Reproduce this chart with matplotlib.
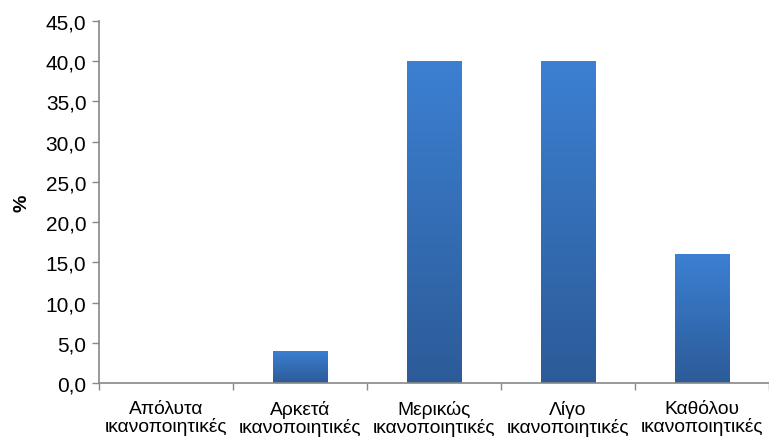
import matplotlib
matplotlib.use("Agg")
import matplotlib.pyplot as plt
import numpy as np
from matplotlib.colors import LinearSegmentedColormap
from matplotlib.ticker import MultipleLocator, FuncFormatter

categories = [
    "Απόλυτα\nικανοποιητικές",
    "Αρκετά\nικανοποιητικές",
    "Μερικώς\nικανοποιητικές",
    "Λίγο\nικανοποιητικές",
    "Καθόλου\nικανοποιητικές",
]
values = [0.0, 4.0, 40.0, 40.0, 16.0]

plt.rcParams["font.family"] = ["Liberation Sans", "DejaVu Sans"]

fig = plt.figure(figsize=(7.69, 4.39), dpi=100)
ax = fig.add_axes([0.1287, 0.1253, 0.8713, 0.8246])

x = np.arange(len(categories))
bars = ax.bar(x, values, width=0.41, color="none", edgecolor="none", zorder=2)

# vertical gradient, lighter at the top
grad_cmap = LinearSegmentedColormap.from_list("bar", ["#2C5B98", "#3C80D2"])
grad = np.linspace(0, 1, 256).reshape(-1, 1)
for bar in bars:
    h = bar.get_height()
    if h <= 0:
        continue
    x0 = bar.get_x()
    w = bar.get_width()
    im = ax.imshow(grad, cmap=grad_cmap, aspect="auto", origin="lower",
                   extent=[x0, x0 + w, 0, h], zorder=2)
    im.set_clip_path(bar)

ax.set_xlim(-0.5, len(categories) - 0.5)
ax.set_ylim(0, 45)
ax.yaxis.set_major_locator(MultipleLocator(5))
ax.yaxis.set_major_formatter(FuncFormatter(lambda v, _: f"{v:.1f}".replace(".", ",")))

ax.set_xticks(x)
ax.set_xticklabels(categories, fontsize=13.9, linespacing=1.0)
ax.tick_params(axis="x", length=0, pad=12)
ax.set_xticks(np.arange(len(categories) + 1) - 0.5, minor=True)
ax.tick_params(axis="x", which="minor", length=5, color="#888888", width=1)
ax.tick_params(axis="y", length=5, color="#888888", width=1, labelsize=15, pad=4)

for side in ["top", "right"]:
    ax.spines[side].set_visible(False)
for side in ["left", "bottom"]:
    ax.spines[side].set_color("#888888")
    ax.spines[side].set_linewidth(1.2)

ax.set_ylabel("%", fontsize=14, fontweight="bold", labelpad=11)

fig.savefig("out.png", dpi=100)
